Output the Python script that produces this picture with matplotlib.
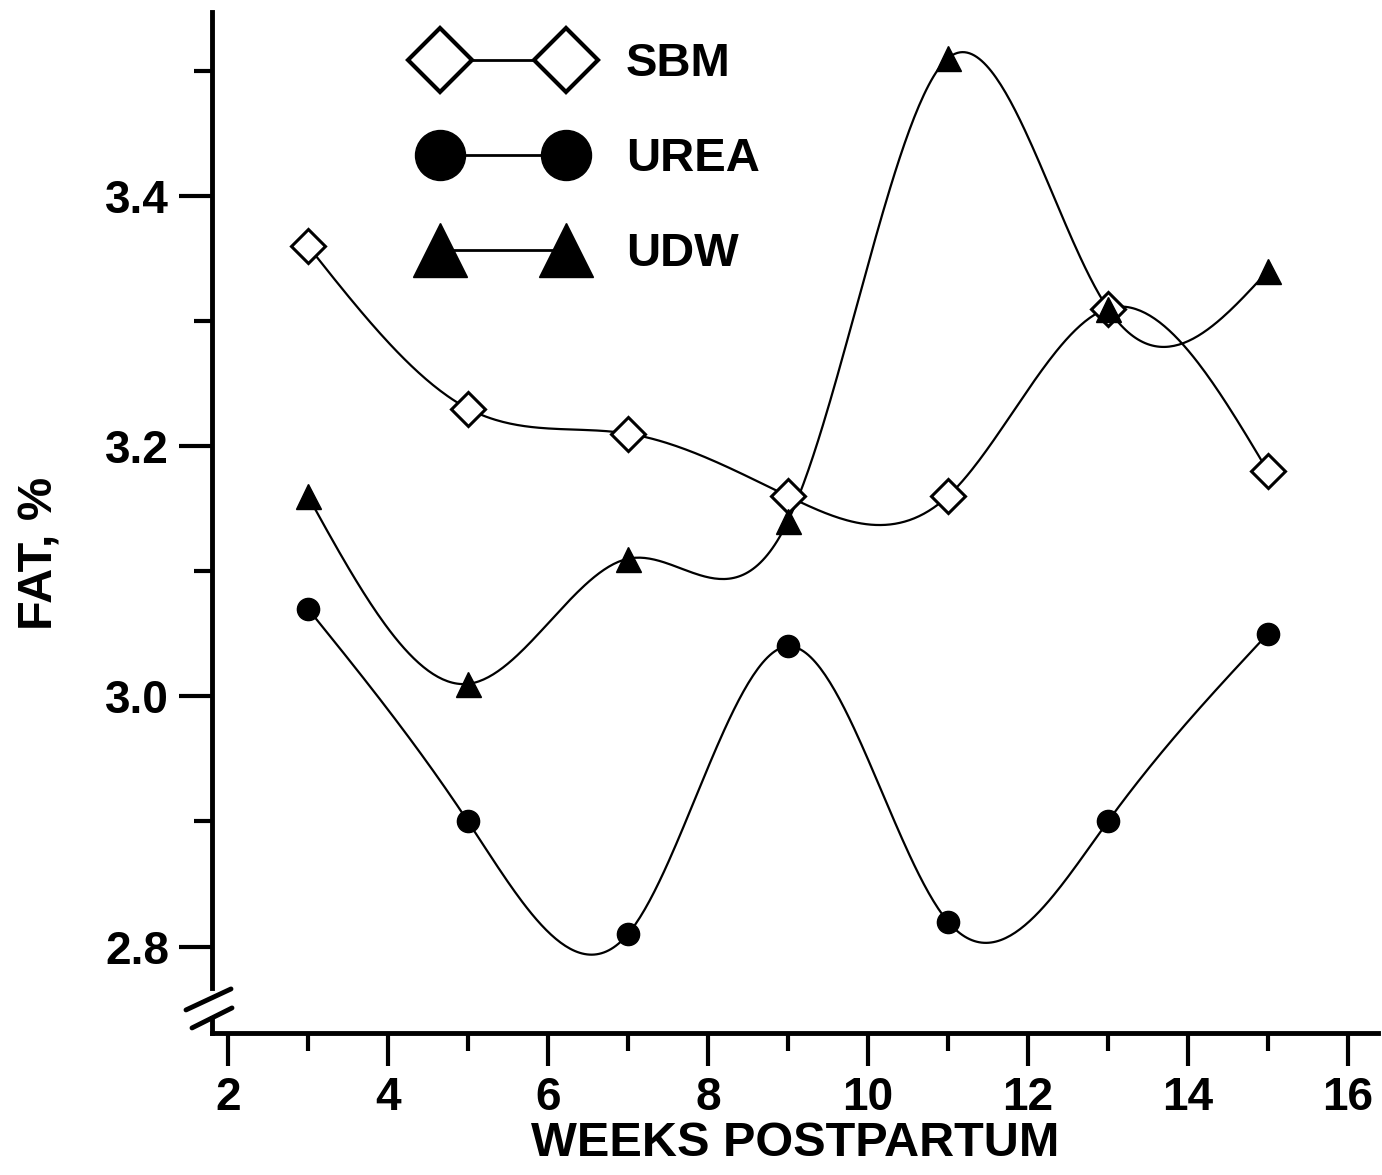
import matplotlib
matplotlib.use('Agg')
import matplotlib.pyplot as plt
import numpy as np

# data
weeks = [3, 5, 7, 9, 11, 13, 15]
sbm = [3.36, 3.23, 3.21, 3.16, 3.16, 3.31, 3.18]
urea = [3.07, 2.90, 2.81, 3.04, 2.82, 2.90, 3.05]
udw = [3.16, 3.01, 3.11, 3.14, 3.51, 3.31, 3.34]

plt.rcParams['font.family'] = ['Liberation Sans', 'DejaVu Sans']
plt.rcParams['font.weight'] = 'bold'
plt.rcParams['axes.labelweight'] = 'bold'


def natural_spline(x, y, xs):
    # plain natural cubic spline through the points
    x = np.asarray(x, float)
    y = np.asarray(y, float)
    n = len(x)
    h = np.diff(x)
    A = np.zeros((n, n))
    b = np.zeros(n)
    A[0, 0] = 1
    A[-1, -1] = 1
    for i in range(1, n - 1):
        A[i, i - 1] = h[i - 1]
        A[i, i] = 2 * (h[i - 1] + h[i])
        A[i, i + 1] = h[i]
        b[i] = 3 * ((y[i + 1] - y[i]) / h[i] - (y[i] - y[i - 1]) / h[i - 1])
    c = np.linalg.solve(A, b)
    out = np.zeros_like(xs)
    for k, t in enumerate(xs):
        i = min(np.searchsorted(x, t, side='right') - 1, n - 2)
        i = max(i, 0)
        dx = t - x[i]
        bb = (y[i + 1] - y[i]) / h[i] - h[i] * (2 * c[i] + c[i + 1]) / 3
        d = (c[i + 1] - c[i]) / (3 * h[i])
        out[k] = y[i] + bb * dx + c[i] * dx ** 2 + d * dx ** 3
    return out


fig = plt.figure(figsize=(13.82, 11.75), dpi=100)
ax = fig.add_axes([0.1534, 0.1209, 0.8436, 0.8689])

xs = np.linspace(weeks[0], weeks[-1], 400)
lw = 1.6
ax.plot(xs, natural_spline(weeks, sbm, xs), color='black', lw=lw)
ax.plot(xs, natural_spline(weeks, urea, xs), color='black', lw=lw)
ax.plot(xs, natural_spline(weeks, udw, xs), color='black', lw=lw)

ax.plot(weeks, sbm, linestyle='none', marker='D', ms=17.5, mfc='white', mec='black', mew=2.2, zorder=3)
ax.plot(weeks, urea, linestyle='none', marker='o', ms=16, mfc='black', mec='black', zorder=3)
ax.plot(weeks, udw, linestyle='none', marker='^', ms=18, mfc='black', mec='black', zorder=3)

# legend handles
h1, = ax.plot([], [], color='black', lw=2, marker='D', ms=33, mfc='white', mec='black', mew=3)
h2, = ax.plot([], [], color='black', lw=2, marker='o', ms=36, mfc='black', mec='black')
h3, = ax.plot([], [], color='black', lw=2, marker='^', ms=39, mfc='black', mec='black')
leg = ax.legend([h1, h2, h3], ['SBM', 'UREA', 'UDW'], numpoints=2, frameon=False,
                loc='upper left', bbox_to_anchor=(0.147, 1.012), fontsize=34,
                handlelength=3.26, handletextpad=0.98, labelspacing=1.08)

ax.set_xlim(1.8, 16.375)
ax.set_ylim(2.731, 3.547)

ax.set_xticks([2, 4, 6, 8, 10, 12, 14, 16])
ax.set_xticks([3, 5, 7, 9, 11, 13, 15], minor=True)
ax.set_yticks([2.8, 3.0, 3.2, 3.4])
ax.set_yticks([2.9, 3.1, 3.3, 3.5], minor=True)
ax.set_yticklabels(['2.8', '3.0', '3.2', '3.4'])

ax.tick_params(axis='both', which='major', direction='out', length=24, width=3, labelsize=33, pad=7)
ax.tick_params(axis='both', which='minor', direction='out', length=13, width=3)

for s in ['top', 'right']:
    ax.spines[s].set_visible(False)
for s in ['left', 'bottom']:
    ax.spines[s].set_linewidth(3.5)
ax.spines['left'].set_bounds(2.767, 3.547)

# axis break on the y axis
tr = ax.transAxes
def px(xp, yp):
    return ((xp - 212) / 1166.0, 1 - (yp - 12) / 1021.0)
for (a, b) in [((186, 1010), (231, 989)), ((192, 1028), (232, 1008))]:
    p, q = px(*a), px(*b)
    ax.plot([p[0], q[0]], [p[1], q[1]], color='black', lw=3.5, transform=tr, clip_on=False,
            solid_capstyle='round')
p, q = px(212, 1018), px(212, 1033)
ax.plot([p[0], q[0]], [p[1], q[1]], color='black', lw=3.5, transform=tr, clip_on=False)

ax.set_xlabel('WEEKS POSTPARTUM', fontsize=35, labelpad=1)
ax.set_ylabel('FAT, %', fontsize=35)
ax.yaxis.set_label_coords(-0.128, 0.47)

fig.savefig('out.png', dpi=100)
